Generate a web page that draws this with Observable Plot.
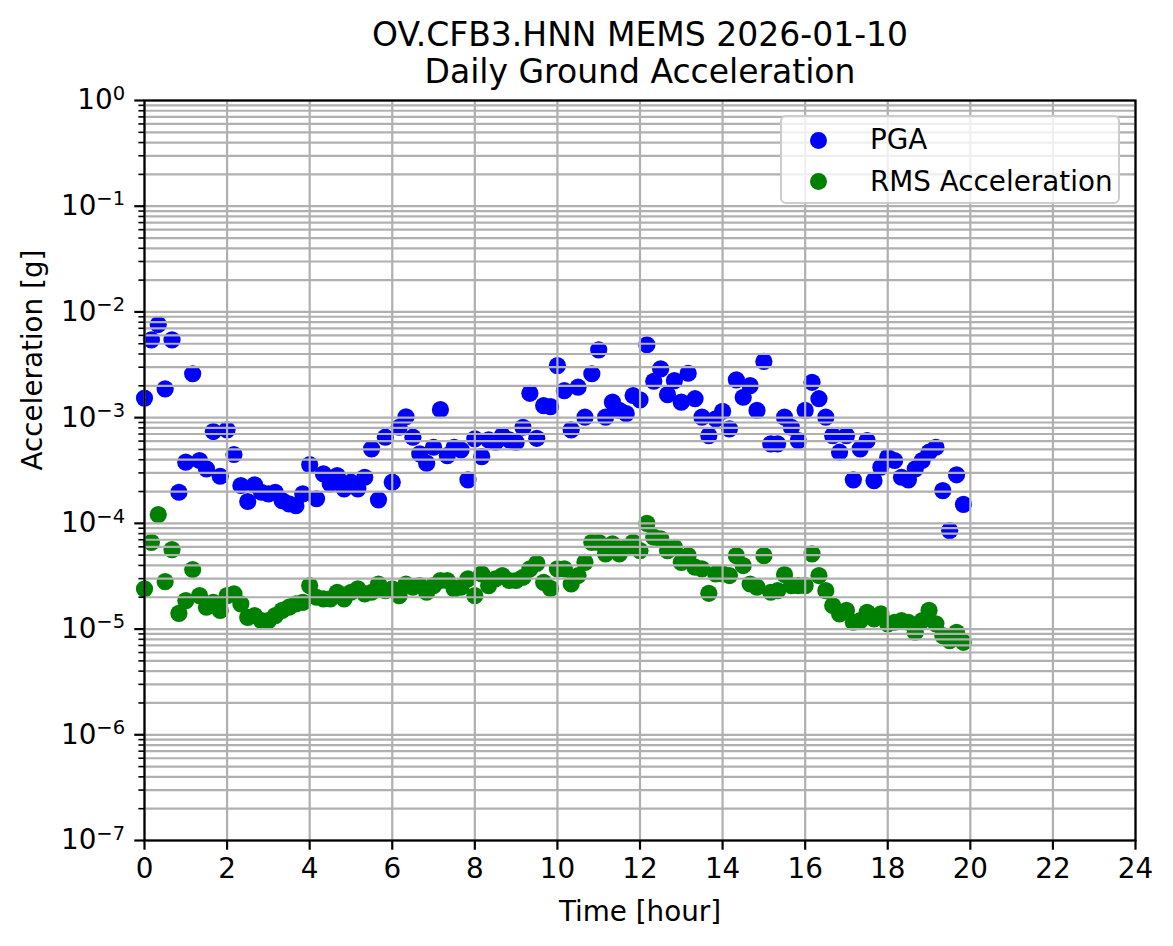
<!DOCTYPE html>
<html>
<head>
<meta charset="utf-8">
<script src="https://cdn.jsdelivr.net/npm/d3@7"></script>
<script src="https://cdn.jsdelivr.net/npm/@observablehq/plot@0.6"></script>
<style>
  html, body { margin: 0; padding: 0; background: white; }
  #wrap { position: relative; width: 1173px; height: 946px; font-family: "DejaVu Sans", sans-serif; }
  #legend { position: absolute; left: 780px; top: 115px; width: 340px; height: 89px;
            background: rgba(255,255,255,0.8); border: 2px solid #cccccc; border-radius: 6px; box-sizing: border-box; }
  .lg-dot { position: absolute; width: 17px; height: 17px; border-radius: 50%; }
  .lg-txt { position: absolute; font-size: 27.8px; line-height: 1; color: black; white-space: nowrap; }
</style>
</head>
<body>
<div id="wrap"></div>
<script>
// ---- data ----
const sampleIntervalHours = 10 / 60; // one sample every 10 minutes starting at 00:00
const pgaValues = [
  1.53e-3, 5.44e-3, 7.6e-3, 1.87e-3, 5.44e-3, 1.97e-4, 3.79e-4, 2.6e-3, 3.93e-4, 3.28e-4,
  7.39e-4, 2.79e-4, 7.67e-4, 4.48e-4, 2.28e-4, 1.61e-4, 2.31e-4, 1.97e-4, 1.90e-4, 1.97e-4,
  1.64e-4, 1.53e-4, 1.47e-4, 1.90e-4, 3.6e-4, 1.71e-4, 2.94e-4, 2.36e-4, 2.83e-4, 2.12e-4,
  2.45e-4, 2.12e-4, 2.73e-4, 5.07e-4, 1.67e-4, 6.53e-4, 2.45e-4, 8.11e-4, 1.02e-3, 6.53e-4,
  4.54e-4, 3.71e-4, 5.25e-4, 1.19e-3, 4.38e-4, 5.25e-4, 4.96e-4, 2.58e-4, 6.3e-4, 4.28e-4,
  6.16e-4, 5.85e-4, 6.77e-4, 6.16e-4, 5.85e-4, 8.11e-4, 1.70e-3, 6.38e-4, 1.30e-3, 1.27e-3,
  3.11e-3, 1.80e-3, 7.67e-4, 1.94e-3, 1.01e-3, 2.6e-3, 4.38e-3, 1.01e-3, 1.40e-3, 1.17e-3,
  1.09e-3, 1.62e-3, 1.47e-3, 4.89e-3, 2.21e-3, 2.89e-3, 1.65e-3, 2.24e-3, 1.40e-3, 2.63e-3,
  1.51e-3, 1.01e-3, 6.77e-4, 9.75e-4, 1.15e-3, 7.83e-4, 2.28e-3, 1.56e-3, 2.01e-3, 1.17e-3,
  3.40e-3, 5.65e-4, 5.65e-4, 1.01e-3, 8.11e-4, 6.07e-4, 1.17e-3, 2.16e-3, 1.51e-3, 1.01e-3,
  6.77e-4, 4.71e-4, 6.77e-4, 2.58e-4, 5.07e-4, 6.07e-4, 2.54e-4, 3.4e-4, 4.22e-4, 3.93e-4,
  2.73e-4, 2.58e-4, 3.28e-4, 3.93e-4, 4.71e-4, 5.25e-4, 2.04e-4, 8.55e-5, 2.88e-4, 1.51e-4
];
const rmsValues = [
  2.40e-5, 6.62e-5, 1.21e-4, 2.81e-5, 5.65e-5, 1.41e-5, 1.86e-5, 3.66e-5, 2.07e-5, 1.61e-5,
  1.79e-5, 1.50e-5, 2.07e-5, 2.15e-5, 1.73e-5, 1.29e-5, 1.34e-5, 1.20e-5, 1.20e-5, 1.34e-5,
  1.50e-5, 1.61e-5, 1.73e-5, 1.79e-5, 2.58e-5, 2.0e-5, 1.93e-5, 1.93e-5, 2.23e-5, 1.93e-5,
  2.23e-5, 2.40e-5, 2.15e-5, 2.23e-5, 2.67e-5, 2.31e-5, 2.40e-5, 2.07e-5, 2.67e-5, 2.49e-5,
  2.58e-5, 2.23e-5, 2.58e-5, 2.88e-5, 2.88e-5, 2.40e-5, 2.49e-5, 2.98e-5, 2.07e-5, 3.33e-5,
  2.58e-5, 2.98e-5, 3.21e-5, 2.88e-5, 2.88e-5, 3.09e-5, 3.71e-5, 4.19e-5, 2.77e-5, 2.43e-5,
  3.71e-5, 3.71e-5, 2.67e-5, 3.21e-5, 4.28e-5, 6.62e-5, 6.62e-5, 5.14e-5, 6.4e-5, 5.14e-5,
  5.94e-5, 6.62e-5, 5.53e-5, 1.0e-4, 7.4e-5, 7.13e-5, 5.53e-5, 5.94e-5, 4.28e-5, 4.95e-5,
  3.85e-5, 3.71e-5, 2.18e-5, 3.33e-5, 3.33e-5, 3.21e-5, 4.95e-5, 3.99e-5, 2.67e-5, 2.49e-5,
  4.95e-5, 2.23e-5, 2.31e-5, 3.28e-5, 2.58e-5, 2.58e-5, 2.58e-5, 5.14e-5, 3.21e-5, 2.31e-5,
  1.67e-5, 1.39e-5, 1.50e-5, 1.16e-5, 1.20e-5, 1.44e-5, 1.25e-5, 1.39e-5, 1.12e-5, 1.16e-5,
  1.20e-5, 1.16e-5, 9.33e-6, 1.20e-5, 1.50e-5, 1.12e-5, 8.68e-6, 7.78e-6, 9.33e-6, 7.5e-6
];
const xTickValues = [0, 2, 4, 6, 8, 10, 12, 14, 16, 18, 20, 22, 24];
const yMajorTicks = [1e-7, 1e-6, 1e-5, 1e-4, 1e-3, 1e-2, 1e-1, 1e0];
const yMinorMultipliers = [2, 3, 4, 5, 6, 7, 8, 9];
const seriesNames = ["PGA", "RMS Acceleration"];
const seriesColors = ["#0000ff", "#008000"];
const titleLines = ["OV.CFB3.HNN MEMS 2026-01-10", "Daily Ground Acceleration"];
const xLabel = "Time [hour]";
const yLabel = "Acceleration [g]";

// ---- build tables ----
const pgaData = pgaValues.map((v, i) => ({h: i * sampleIntervalHours, v}));
const rmsData = rmsValues.map((v, i) => ({h: i * sampleIntervalHours, v}));
const yMinorTicks = [];
for (let e = -7; e < 0; e++) for (const m of yMinorMultipliers) yMinorTicks.push(m * Math.pow(10, e));
const yAllGrid = yMajorTicks.concat(yMinorTicks);

const supMap = {"-": "⁻", "0": "⁰", "1": "¹", "2": "²", "3": "³", "4": "⁴", "5": "⁵", "6": "⁶", "7": "⁷", "8": "⁸", "9": "⁹"};
const fmtPow = d => "10" + String(Math.round(Math.log10(d))).split("").map(c => supMap[c]).join("");

const gridColor = "#b0b0b0";
const chart = Plot.plot({
  width: 1173,
  height: 946,
  marginLeft: 144,
  marginRight: 38,
  marginTop: 100,
  marginBottom: 106,
  style: {fontFamily: "DejaVu Sans", background: "white", color: "black", overflow: "visible"},
  x: {domain: [0, 24]},
  y: {type: "log", domain: [1e-7, 1]},
  marks: [
    Plot.dot(pgaData, {x: "h", y: "v", r: 8.6, fill: seriesColors[0]}),
    Plot.dot(rmsData, {x: "h", y: "v", r: 8.6, fill: seriesColors[1]}),
    Plot.ruleY(yAllGrid, {stroke: gridColor, strokeWidth: 2.2}),
    Plot.ruleX(xTickValues, {stroke: gridColor, strokeWidth: 2.2}),
    Plot.axisX(xTickValues, {tickSize: 9.7, tickPadding: 8, fontSize: 27.8, strokeWidth: 2.2, label: null, tickFormat: d => String(d)}),
    Plot.axisY(yMajorTicks, {tickSize: 9.7, tickPadding: 9.7, fontSize: 27.8, strokeWidth: 2.2, label: null, tickFormat: fmtPow}),
    Plot.axisY(yMinorTicks, {tickSize: 5.6, strokeWidth: 1.6, label: null, text: null, tickFormat: null}),
    Plot.frame({stroke: "black", strokeWidth: 2.2}),
    Plot.text([titleLines[0]], {text: d => d, frameAnchor: "top", dy: -65, fontSize: 33, lineAnchor: "middle"}),
    Plot.text([titleLines[1]], {text: d => d, frameAnchor: "top", dy: -28, fontSize: 33, lineAnchor: "middle"}),
    Plot.text([xLabel], {text: d => d, frameAnchor: "bottom", dy: 72, fontSize: 27.8, lineAnchor: "middle"}),
    Plot.text([yLabel], {text: d => d, frameAnchor: "left", dx: -111, rotate: -90, fontSize: 27.8, lineAnchor: "middle"})
  ]
});

const wrap = document.getElementById("wrap");
wrap.appendChild(chart);

// matplotlib-style superscript exponents on y tick labels
const backMap = {"⁻": "−", "⁰": "0", "¹": "1", "²": "2", "³": "3", "⁴": "4", "⁵": "5", "⁶": "6", "⁷": "7", "⁸": "8", "⁹": "9"};
d3.select(chart).selectAll("text").each(function() {
  const t = this.textContent;
  if (/^10[⁻⁰¹²³⁴⁵⁶⁷⁸⁹]+$/.test(t)) {
    const exp = t.slice(2).split("").map(c => backMap[c]).join("");
    const sel = d3.select(this);
    sel.text(null);
    sel.append("tspan").text("10");
    sel.append("tspan").attr("font-size", "19.5px").attr("dy", "-0.5em").text(exp);
  }
});

// legend
const legend = document.createElement("div");
legend.id = "legend";
seriesNames.forEach((name, i) => {
  const dot = document.createElement("div");
  dot.className = "lg-dot";
  dot.style.background = seriesColors[i];
  dot.style.left = (38 - 8.5 - 2) + "px";
  dot.style.top = (25 + i * 41.5 - 8.5 - 2) + "px";
  legend.appendChild(dot);
  const txt = document.createElement("div");
  txt.className = "lg-txt";
  txt.textContent = name;
  txt.style.left = (90 - 2) + "px";
  txt.style.top = (25 + i * 41.5 - 14 - 2) + "px";
  legend.appendChild(txt);
});
wrap.appendChild(legend);
</script>
</body>
</html>
